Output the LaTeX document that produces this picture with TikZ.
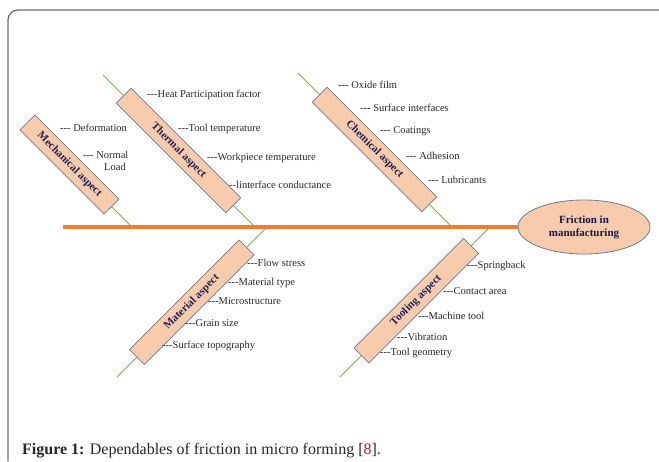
\documentclass[tikz,border=0pt]{standalone}
\usepackage{fontspec}
\setmainfont{Liberation Serif}[Ligatures=TeXOff]
\usepackage{xcolor}
\usepackage{tikz}
\usetikzlibrary{shapes.geometric,positioning}
\definecolor{spinecolor}{RGB}{237,125,49}
\definecolor{bonecolor}{RGB}{120,178,80}
\definecolor{boxfill}{RGB}{248,203,173}
\definecolor{boxdraw}{RGB}{105,122,150}
\definecolor{aspecttext}{RGB}{30,36,92}
\definecolor{labeltext}{RGB}{40,40,40}
\definecolor{framecolor}{RGB}{110,110,110}
\definecolor{refred}{RGB}{170,30,35}

\begin{document}
\begin{tikzpicture}[
        x=1pt, y=-1pt,
        aspect/.style={rectangle, draw=boxdraw, thick, fill=boxfill, minimum width=155pt, minimum height=21pt, inner sep=0pt, text=aspecttext, font=\bfseries\fontsize{11}{12}\selectfont},
        cause/.style={anchor=west, inner sep=0pt, text=labeltext, font=\fontsize{10.5}{12}\selectfont, align=left},
        bone/.style={bonecolor, line width=1pt},
        spine/.style={spinecolor, line width=3.5pt}
    ]
        \useasboundingbox (0,0) rectangle (659,461);
        \draw[framecolor, line width=1.3pt, rounded corners=10pt] (8,461) -- (8,10) -- (659,10);

        % bones
        \coordinate (mechtop) at (28,123);   \coordinate (mechjoin) at (132,227);
        \coordinate (thermtop) at (103,75);  \coordinate (thermjoin) at (255,227);
        \coordinate (chemtop) at (298,73);   \coordinate (chemjoin) at (452,227);
        \coordinate (matjoin) at (267,227);  \coordinate (matend) at (117,377);
        \coordinate (tooljoin) at (490,227); \coordinate (toolend) at (340,377);
        \coordinate (spinestart) at (63,227);

        \node[ellipse, draw=boxdraw, thick, fill=boxfill, minimum width=132pt, minimum height=54pt, inner sep=0pt, align=center, text=aspecttext!70!black, font=\bfseries\fontsize{11}{13}\selectfont] (friction) at (584,227) {Friction in\\manufacturing};

        \draw[bone] (mechtop) -- (mechjoin);
        \draw[bone] (thermtop) -- (thermjoin);
        \draw[bone] (chemtop) -- (chemjoin);
        \draw[bone] (matjoin) -- (matend);
        \draw[bone] (tooljoin) -- (toolend);
        \draw[spine] (spinestart) -- (friction);

        % aspect boxes
        \node[aspect, rotate=-45, minimum width=119pt] (mech) at (69.5,164.5) {Mechanical aspect};
        \node[aspect, rotate=-45] (therm) at (178.5,150.5) {Thermal aspect};
        \node[aspect, rotate=-45] (chem) at (374.5,149.5) {Chemical aspect};
        \node[aspect, rotate=45] (mat) at (191.75,302.25) {Material aspect};
        \node[aspect, rotate=45] (tool) at (416.25,300.75) {Tooling aspect};

        % causes
        \node[cause] (deform) at (60,128) {--- Deformation};
        \node[cause] (normal) at (83,161) {--- Normal\\\hspace{21pt}Load};

        \node[cause] (heat) at (147,95) {---Heat Participation factor};
        \node[cause] (tooltemp) at (178,129) {---Tool temperature};
        \node[cause] (worktemp) at (207,158) {---Workpiece temperature};
        \node[cause] (interface) at (229,185) {--linterface conductance};

        \node[cause] (oxide) at (338,85) {--- Oxide film};
        \node[cause] (surface) at (360,108) {--- Surface interfaces};
        \node[cause] (coat) at (380,131) {--- Coatings};
        \node[cause] (adhesion) at (406,156) {--- Adhesion};
        \node[cause] (lube) at (428,180) {--- Lubricants};

        \node[cause] (flow) at (247,263) {---Flow stress};
        \node[cause] (mattype) at (228,283) {---Material type};
        \node[cause] (micro) at (208,301) {---Microstructure};
        \node[cause] (grain) at (185,323) {---Grain size};
        \node[cause] (topo) at (162,346) {---Surface topography};

        \node[cause] (spring) at (467,266) {---Springback};
        \node[cause] (contact) at (443,291) {---Contact area};
        \node[cause] (machine) at (418,316) {---Machine tool};
        \node[cause] (vib) at (397,337) {---Vibration};
        \node[cause] (geom) at (380,353) {---Tool geometry};

        \node[anchor=base west, inner sep=0pt, text=black!85, font=\fontsize{16}{18}\selectfont] (caption) at (22,454) {\textbf{Figure 1:} Dependables of friction in micro forming [\textcolor{refred}{8}].};
    \end{tikzpicture}
\end{document}
